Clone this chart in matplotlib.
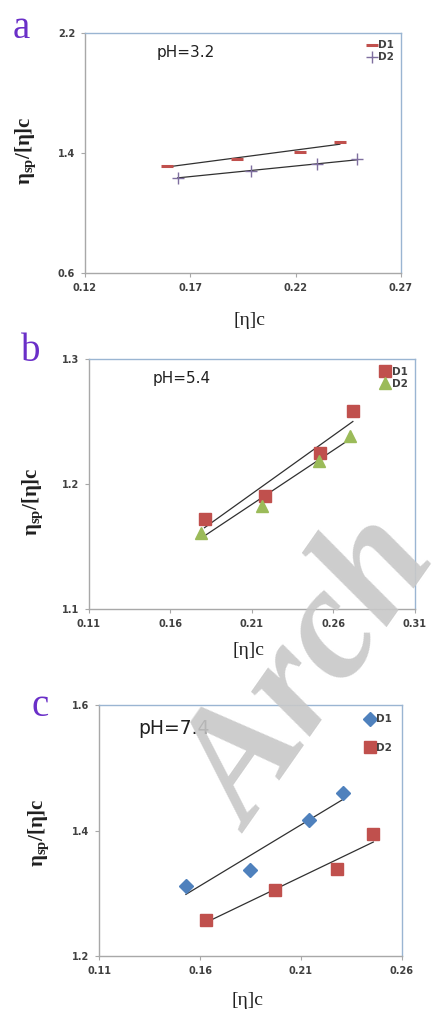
import matplotlib
matplotlib.use('Agg')
import matplotlib.pyplot as plt
import numpy as np

plt.rcParams['mathtext.fontset'] = 'custom'
plt.rcParams['mathtext.rm'] = 'Liberation Serif'
plt.rcParams['mathtext.it'] = 'Liberation Serif:italic'
plt.rcParams['mathtext.bf'] = 'Liberation Serif:bold'

# panel a, pH=3.2
a_d1_x = [0.159, 0.192, 0.222, 0.241]
a_d1_y = [1.316, 1.360, 1.405, 1.476]
a_d2_x = [0.164, 0.199, 0.230, 0.249]
a_d2_y = [1.236, 1.282, 1.324, 1.358]

# panel b, pH=5.4
b_d1_x = [0.181, 0.218, 0.252, 0.272]
b_d1_y = [1.172, 1.191, 1.225, 1.259]
b_d2_x = [0.179, 0.2165, 0.251, 0.270]
b_d2_y = [1.161, 1.183, 1.219, 1.239]

# panel c, pH=7.4
c_d1_x = [0.153, 0.185, 0.214, 0.231]
c_d1_y = [1.312, 1.337, 1.417, 1.459]
c_d2_x = [0.163, 0.197, 0.228, 0.246]
c_d2_y = [1.257, 1.306, 1.338, 1.394]

RED = '#c0504d'
GREEN = '#9bbb59'
BLUE = '#4f81bd'
PURPLE = '#7f6f9f'
LETTER = '#6a2fc8'

fig = plt.figure(figsize=(4.33, 10.09), dpi=100)

ax_a = fig.add_axes([0.196, 0.7294, 0.730, 0.2379])
ax_b = fig.add_axes([0.205, 0.3961, 0.753, 0.2478])
ax_c = fig.add_axes([0.2293, 0.0525, 0.698, 0.2488])


def trend(ax, x, y):
    k, b = np.polyfit(x, y, 1)
    xs = np.array([min(x), max(x)])
    ax.plot(xs, k * xs + b, color='#303030', lw=0.9, zorder=2)


def style(ax, xlim, xticks, ylim, yticks):
    ax.set_xlim(*xlim)
    ax.set_ylim(*ylim)
    ax.set_xticks(xticks)
    ax.set_yticks(yticks)
    ax.set_xticklabels(['%.2f' % t for t in xticks])
    ax.set_yticklabels(['%.1f' % t for t in yticks])
    for s in ['top', 'right']:
        ax.spines[s].set_color('#9ab5d2')
    for s in ['left', 'bottom']:
        ax.spines[s].set_color('#a8a8a8')
    for s in ax.spines.values():
        s.set_linewidth(1.0)
    ax.tick_params(direction='out', length=3, color='#a8a8a8', labelsize=7,
                   labelcolor='#404040', pad=4)
    for lab in ax.get_xticklabels() + ax.get_yticklabels():
        lab.set_fontweight('bold')
    ax.set_ylabel(r'$\mathbf{\eta_{sp}/[\eta]c}$', fontsize=15, color='#202020')
    ax.set_xlabel('[η]c', fontsize=14, family='Liberation Serif', color='#202020')


# a
ax_a.plot(a_d1_x, a_d1_y, ls='none', marker='_', ms=9, mew=2.2, color=RED, label='D1', zorder=3)
ax_a.plot(a_d2_x, a_d2_y, ls='none', marker='+', ms=9, mew=1.0, color=PURPLE, label='D2', zorder=3)
trend(ax_a, a_d1_x, a_d1_y)
trend(ax_a, a_d2_x, a_d2_y)
style(ax_a, (0.12, 0.27), [0.12, 0.17, 0.22, 0.27], (0.6, 2.2), [0.6, 1.4, 2.2])
ax_a.text(0.228, 0.917, 'pH=3.2', transform=ax_a.transAxes, fontsize=11, va='center',
          color='#202020')
ax_a.yaxis.set_label_coords(-0.149, 0.51)
ax_a.xaxis.set_label_coords(0.52, -0.1625)

# b
ax_b.plot(b_d1_x, b_d1_y, ls='none', marker='s', ms=8.5, color=RED, label='D1', zorder=3)
ax_b.plot(b_d2_x, b_d2_y, ls='none', marker='^', ms=9, color=GREEN, label='D2', zorder=3)
trend(ax_b, b_d1_x, b_d1_y)
trend(ax_b, b_d2_x, b_d2_y)
style(ax_b, (0.11, 0.31), [0.11, 0.16, 0.21, 0.26, 0.31], (1.1, 1.3), [1.1, 1.2, 1.3])
ax_b.text(0.197, 0.925, 'pH=5.4', transform=ax_b.transAxes, fontsize=11, va='center',
          color='#202020')
ax_b.yaxis.set_label_coords(-0.134, 0.43)
ax_b.xaxis.set_label_coords(0.49, -0.131)

# c
ax_c.plot(c_d1_x, c_d1_y, ls='none', marker='D', ms=7, color=BLUE, label='D1', zorder=3)
ax_c.plot(c_d2_x, c_d2_y, ls='none', marker='s', ms=9, color=RED, label='D2', zorder=3)
trend(ax_c, c_d1_x, c_d1_y)
trend(ax_c, c_d2_x, c_d2_y)
style(ax_c, (0.11, 0.26), [0.11, 0.16, 0.21, 0.26], (1.2, 1.6), [1.2, 1.4, 1.6])
ax_c.text(0.128, 0.908, 'pH=7.4', transform=ax_c.transAxes, fontsize=13.5, va='center',
          color='#202020')
ax_c.yaxis.set_label_coords(-0.16, 0.49)
ax_c.xaxis.set_label_coords(0.49, -0.143)

for ax, sp, pad in [(ax_a, 0.2, 0.3), (ax_b, 0.2, 0.3), (ax_c, 1.8, 0.5)]:
    leg = ax.legend(loc='upper right', frameon=False, fontsize=7.5, handlelength=0.8,
                    handletextpad=0.2, borderaxespad=pad, labelspacing=sp)
    for t in leg.get_texts():
        t.set_fontweight('bold')
        t.set_color('#404040')

for lab, x, y in [('a', 0.048, 0.972), ('b', 0.07, 0.652), ('c', 0.092, 0.3)]:
    fig.text(x, y, lab, fontsize=28, family='Liberation Serif', color=LETTER,
             ha='center', va='center')

# watermark (only "Arch" is visible in the source)
fig.text(0.578, 0.174, 'Arch', rotation=55, rotation_mode='anchor', ha='left',
         va='baseline', fontsize=116, family='Liberation Serif', fontweight='bold',
         fontstyle='italic', color='#c8c8c8', alpha=0.9, zorder=10)

fig.savefig('out.png', dpi=100)
